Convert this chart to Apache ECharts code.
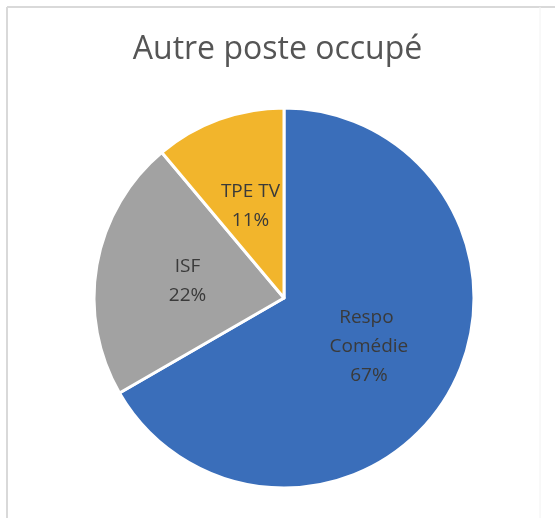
<!DOCTYPE html>
<html>
<head>
<meta charset="utf-8">
<script src="https://cdn.jsdelivr.net/npm/echarts@6/dist/echarts.min.js"></script>
<style>
html,body{margin:0;padding:0;background:#fff;}
#chart{width:555px;height:518px;}
</style>
</head>
<body>
<div id="chart"></div>
<script>
const titleText = 'Autre poste occupé';
const categories = ['Respo Comédie', 'ISF', 'TPE TV'];
const values = [6, 2, 1];
const colors = ['#3A6EBA', '#A2A2A2', '#F2B52C'];

const chart = echarts.init(document.getElementById('chart'), null, {renderer: 'canvas'});
chart.setOption({
  backgroundColor: '#ffffff',
  animation: false,
  title: {
    text: titleText,
    left: 'center',
    top: 29,
    textStyle: {fontFamily: 'Open Sans', fontSize: 32, fontWeight: 'normal', color: '#555555'}
  },
  graphic: [
    {type: 'line', shape: {x1: 7, y1: 7, x2: 7, y2: 518}, style: {stroke: '#d9d9d9', lineWidth: 2}},
    {type: 'line', shape: {x1: 7, y1: 7, x2: 555, y2: 7}, style: {stroke: '#d9d9d9', lineWidth: 2}},
    {type: 'line', shape: {x1: 540, y1: 7, x2: 540, y2: 518}, style: {stroke: '#f2f2f2', lineWidth: 1}}
  ],
  series: [{
    type: 'pie',
    center: [284, 298],
    radius: [0, 190],
    startAngle: 90,
    clockwise: true,
    percentPrecision: 0,
    itemStyle: {borderColor: '#ffffff', borderWidth: 3},
    label: {
      show: true,
      position: 'inside',
      formatter: '{b}\n{d}%',
      fontFamily: 'Open Sans',
      fontSize: 19,
      lineHeight: 29,
      color: '#3a3a3a',
      width: 100,
      overflow: 'break'
    },
    labelLine: {show: false},
    emphasis: {disabled: true},
    data: categories.map((c, i) => ({name: c, value: values[i], itemStyle: {color: colors[i]}}))
  }]
});
</script>
</body>
</html>
